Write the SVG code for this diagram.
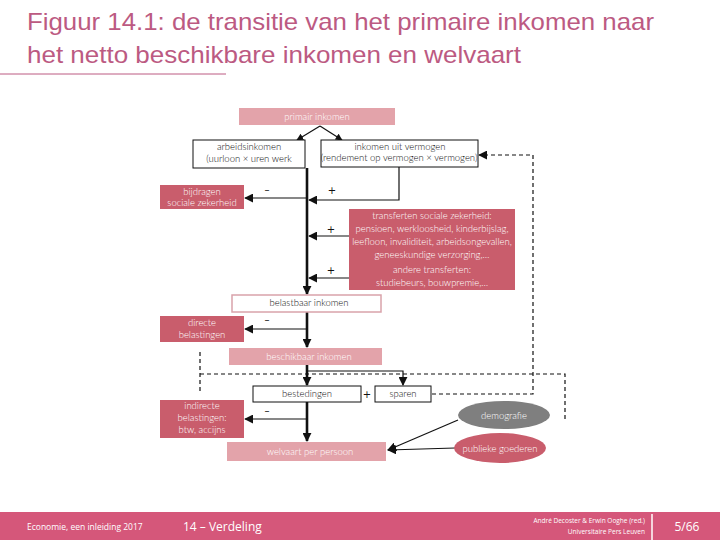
<svg xmlns="http://www.w3.org/2000/svg" width="720" height="540" viewBox="0 0 720 540">
<style>
.title{font-family:"Liberation Sans","Open Sans",sans-serif;font-size:24px;fill:#bc5a82}
.t{font-family:Lato,"Liberation Sans",sans-serif;font-size:9.5px;font-weight:300}
.sg{font-family:"DejaVu Sans",sans-serif;font-size:10px}
.w{fill:#ffffff}
.k{fill:#111111}
.dark{fill:#c95d6c}
.light{fill:#e3a3aa}
.wbox{fill:#ffffff;stroke:#111111;stroke-width:1}
.main{stroke:#111111;stroke-width:2.6;fill:none}
.thin{stroke:#111111;stroke-width:1.2;fill:none}
.dash{stroke:#111111;stroke-width:1.2;fill:none;stroke-dasharray:4 3}
.foot{font-family:"Open Sans","Liberation Sans",sans-serif;fill:#ffffff}
</style>
<defs>
<marker id="ah" viewBox="0 0 10 10" refX="9" refY="5" markerWidth="9" markerHeight="9" markerUnits="userSpaceOnUse" orient="auto">
<path d="M0,0 L10,5 L0,10 Z" fill="#111111"/>
</marker>
<marker id="ahs" viewBox="0 0 10 10" refX="9" refY="5" markerWidth="7" markerHeight="7" markerUnits="userSpaceOnUse" orient="auto">
<path d="M0,0 L10,5 L0,10 Z" fill="#111111"/>
</marker>
</defs>
<rect width="720" height="540" fill="#ffffff"/>
<g id="title">
<text class="title" x="27" y="30" textLength="627" lengthAdjust="spacingAndGlyphs">Figuur 14.1: de transitie van het primaire inkomen naar</text>
<text class="title" x="27" y="63" textLength="494" lengthAdjust="spacingAndGlyphs">het netto beschikbare inkomen en welvaart</text>
<line x1="0" y1="74" x2="226" y2="74" stroke="#bc5a82" stroke-width="1"/>
</g>
<g id="connectors">
<path class="thin" d="M320,126 L297,140" marker-end="url(#ahs)"/>
<path class="thin" d="M320,126 L342,140" marker-end="url(#ahs)"/>
<path class="main" d="M307,168 L307,294" marker-end="url(#ah)"/>
<path class="thin" d="M307,198 L245,198" marker-end="url(#ah)"/>
<path class="thin" d="M399,167 L399,200 L309,200" marker-end="url(#ah)"/>
<path class="thin" d="M349,236 L309,236" marker-end="url(#ah)"/>
<path class="thin" d="M349,278 L309,278" marker-end="url(#ah)"/>
<path class="main" d="M307,312 L307,347" marker-end="url(#ah)"/>
<path class="thin" d="M307,329 L245,329" marker-end="url(#ah)"/>
<path class="main" d="M307,365 L307,385" marker-end="url(#ah)"/>
<path class="thin" d="M307,371 L403,371 L403,385" marker-end="url(#ah)"/>
<path class="main" d="M307,402 L307,441" marker-end="url(#ah)"/>
<path class="thin" d="M307,419 L245,419" marker-end="url(#ah)"/>
<path class="dash" d="M432,394 L533,394 L533,155 L479,155" marker-end="url(#ah)"/>
<path class="dash" d="M200,352 L200,392"/>
<path class="dash" d="M200,374 L565,374 L565,420"/>
<path class="thin" d="M458,420 L388,450" marker-end="url(#ah)"/>
<path class="thin" d="M455,448 L388,450" marker-end="url(#ah)"/>
</g>
<g id="labels" class="sg k">
<text x="267" y="193" text-anchor="middle">–</text>
<text x="332" y="194" text-anchor="middle">+</text>
<text x="331" y="233" text-anchor="middle">+</text>
<text x="331" y="274" text-anchor="middle">+</text>
<text x="267" y="323" text-anchor="middle">–</text>
<text x="367" y="398" text-anchor="middle">+</text>
<text x="267" y="414" text-anchor="middle">–</text>
</g>
<g id="primair">
<rect class="light" x="239" y="108" width="156" height="17"/>
<text class="t w" x="317" y="120" text-anchor="middle">primair inkomen</text>
</g>
<g id="arbeid">
<rect class="wbox" x="193" y="140" width="112" height="28"/>
<text class="t k" x="249" y="150" text-anchor="middle">arbeidsinkomen</text>
<text class="t k" x="249" y="162" text-anchor="middle" font-size="9">(uurloon × uren werk</text>
</g>
<g id="vermogen">
<rect class="wbox" x="321" y="140" width="157" height="27"/>
<text class="t k" x="400" y="150" text-anchor="middle">inkomen uit vermogen</text>
<text class="t k" x="399" y="161" text-anchor="middle" font-size="8">(rendement op vermogen × vermogen)</text>
</g>
<g id="bijdragen">
<rect class="dark" x="160" y="185" width="84" height="24"/>
<text class="t w" x="202" y="195" text-anchor="middle">bijdragen</text>
<text class="t w" x="202" y="206" text-anchor="middle">sociale zekerheid</text>
</g>
<g id="transferten">
<rect class="dark" x="349" y="209" width="166" height="81"/>
<text class="t w" x="432" y="219" text-anchor="middle">transferten sociale zekerheid:</text>
<text class="t w" x="432" y="232" text-anchor="middle">pensioen, werkloosheid, kinderbijslag,</text>
<text class="t w" x="432" y="245" text-anchor="middle">leefloon, invaliditeit, arbeidsongevallen,</text>
<text class="t w" x="432" y="258" text-anchor="middle">geneeskundige verzorging,…</text>
<text class="t w" x="432" y="273" text-anchor="middle">andere transferten:</text>
<text class="t w" x="432" y="286" text-anchor="middle">studiebeurs, bouwpremie,…</text>
</g>
<g id="belastbaar">
<rect x="232" y="295" width="149" height="17" fill="#ffffff" stroke="#d9a3aa" stroke-width="1.5"/>
<text class="t k" x="309" y="306" text-anchor="middle">belastbaar inkomen</text>
</g>
<g id="directe">
<rect class="dark" x="160" y="316" width="84" height="26"/>
<text class="t w" x="202" y="326" text-anchor="middle">directe</text>
<text class="t w" x="202" y="338" text-anchor="middle">belastingen</text>
</g>
<g id="beschikbaar">
<rect class="light" x="229" y="348" width="153" height="17"/>
<text class="t w" x="309" y="360" text-anchor="middle">beschikbaar inkomen</text>
</g>
<g id="bestedingen">
<rect class="wbox" x="253" y="386" width="108" height="16"/>
<text class="t k" x="307" y="397" text-anchor="middle">bestedingen</text>
</g>
<g id="sparen">
<rect class="wbox" x="375" y="386" width="56" height="16"/>
<text class="t k" x="403" y="397" text-anchor="middle">sparen</text>
</g>
<g id="indirecte">
<rect class="dark" x="160" y="400" width="84" height="38"/>
<text class="t w" x="202" y="409" text-anchor="middle">indirecte</text>
<text class="t w" x="202" y="421" text-anchor="middle">belastingen:</text>
<text class="t w" x="202" y="433" text-anchor="middle">btw, accijns</text>
</g>
<g id="welvaart">
<rect class="light" x="227" y="442" width="159" height="19"/>
<text class="t w" x="310" y="455" text-anchor="middle">welvaart per persoon</text>
</g>
<g id="demografie">
<ellipse cx="504" cy="415" rx="46" ry="14" fill="#7f7f7f"/>
<text class="t w" x="504" y="419" text-anchor="middle">demografie</text>
</g>
<g id="publieke">
<ellipse cx="500" cy="448" rx="46" ry="15" fill="#c95d6c"/>
<text class="t w" x="500" y="452" text-anchor="middle">publieke goederen</text>
</g>
<g id="footer">
<rect x="0" y="512" width="720" height="28" fill="#d5577a"/>
<line x1="652" y1="514" x2="652" y2="540" stroke="#ffffff" stroke-width="1.5"/>
<text class="foot" x="27" y="530" font-size="8.5">Economie, een inleiding 2017</text>
<text class="foot" x="183" y="531" font-size="12">14 – Verdeling</text>
<text class="foot" x="645" y="523" font-size="6.5" text-anchor="end">André Decoster &amp; Erwin Ooghe (red.)</text>
<text class="foot" x="645" y="534" font-size="6.5" text-anchor="end">Universitaire Pers Leuven</text>
<text class="foot" x="687" y="531" font-size="12" text-anchor="middle">5/66</text>
</g>
</svg>
